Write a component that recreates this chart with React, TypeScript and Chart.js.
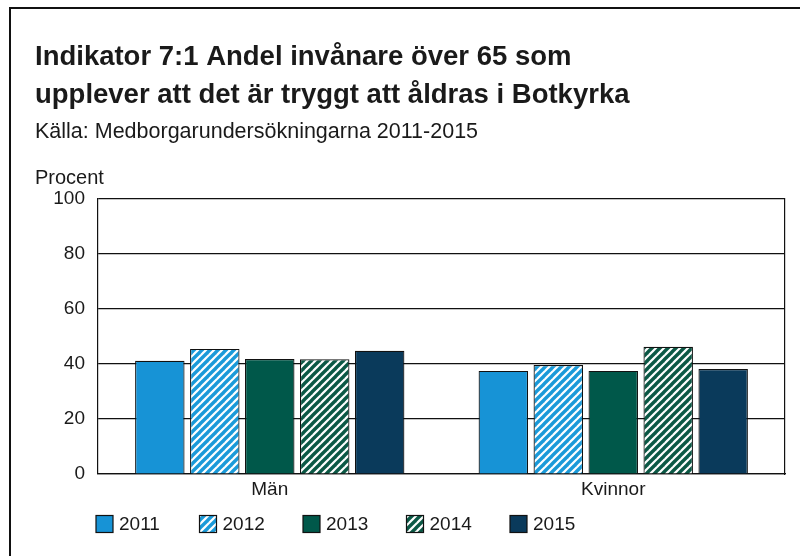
import React, { useEffect, useRef } from 'react';
import { Chart, registerables } from 'chart.js';
Chart.register(...registerables);

const categories = ['Män', 'Kvinnor'];
const years = ['2011', '2012', '2013', '2014', '2015'];
const v2011 = [41.2, 37.5];
const v2012 = [45.5, 39.6];
const v2013 = [41.8, 37.5];
const v2014 = [41.7, 46.3];
const v2015 = [44.8, 38.2];
const yMin = 0;
const yMax = 100;
const yStep = 20;
const titleLines = ['Indikator 7:1 Andel invånare över 65 som', 'upplever att det är tryggt att åldras i Botkyrka'];
const subtitleText = 'Källa: Medborgarundersökningarna 2011-2015';
const yUnit = 'Procent';

const FONT = "'Liberation Sans', Arial, Helvetica, sans-serif";

function makeHatch(color: string): CanvasPattern | string {
  const s = 8;
  const c = document.createElement('canvas');
  c.width = s;
  c.height = s;
  const g = c.getContext('2d');
  if (!g) return color;
  g.fillStyle = '#ffffff';
  g.fillRect(0, 0, s, s);
  g.strokeStyle = color;
  g.lineWidth = 3.4;
  g.lineCap = 'square';
  const segs = [
    [-s, s, s, -s],
    [0, s, s, 0],
    [0, 2 * s, 2 * s, 0],
  ];
  for (const [x1, y1, x2, y2] of segs) {
    g.beginPath();
    g.moveTo(x1, y1);
    g.lineTo(x2, y2);
    g.stroke();
  }
  const p = g.createPattern(c, 'repeat');
  return p || color;
}

const framePlugin = {
  id: 'frame',
  beforeDraw(chart: any) {
    const ctx = chart.ctx;
    ctx.save();
    ctx.fillStyle = '#ffffff';
    ctx.fillRect(0, 0, chart.width, chart.height);
    ctx.strokeStyle = '#111';
    ctx.lineWidth = 2;
    ctx.beginPath();
    ctx.moveTo(10, chart.height);
    ctx.lineTo(10, 8);
    ctx.lineTo(chart.width, 8);
    ctx.stroke();
    ctx.restore();
  },
};

const extrasPlugin = {
  id: 'extras',
  afterDraw(chart: any) {
    const ctx = chart.ctx;
    const area = chart.chartArea;
    ctx.save();
    // unit label above y axis
    ctx.fillStyle = '#1a1a1a';
    ctx.font = `20px ${FONT}`;
    ctx.textAlign = 'left';
    ctx.textBaseline = 'middle';
    ctx.fillText(yUnit, 35, area.top - 21);
    // legend
    const ds = chart.data.datasets;
    const startX = 96;
    const step = 103.5;
    const cy = 524;
    const box = 17;
    ds.forEach((d: any, i: number) => {
      const x = startX + i * step;
      ctx.fillStyle = d.backgroundColor;
      ctx.fillRect(x, cy - box / 2, box, box);
      ctx.strokeStyle = '#111';
      ctx.lineWidth = 1.2;
      ctx.strokeRect(x, cy - box / 2, box, box);
      ctx.fillStyle = '#1a1a1a';
      ctx.font = `19px ${FONT}`;
      ctx.textBaseline = 'middle';
      ctx.fillText(d.label, x + box + 6, cy + 1);
    });
    ctx.restore();
  },
};

export default function App() {
  const ref = useRef<HTMLCanvasElement | null>(null);
  useEffect(() => {
    if (!ref.current) return;
    const c2011 = '#1793d6';
    const c2012 = '#1a9ad9';
    const c2013 = '#00584a';
    const c2014 = '#0b5845';
    const c2015 = '#0a3a5b';
    const series = [
      { label: years[0], data: v2011, backgroundColor: c2011 as any },
      { label: years[1], data: v2012, backgroundColor: makeHatch(c2012) as any },
      { label: years[2], data: v2013, backgroundColor: c2013 as any },
      { label: years[3], data: v2014, backgroundColor: makeHatch(c2014) as any },
      { label: years[4], data: v2015, backgroundColor: c2015 as any },
    ];
    const chart = new Chart(ref.current, {
      type: 'bar',
      data: {
        labels: categories,
        datasets: series.map((s) => ({
          ...s,
          borderColor: '#111',
          borderWidth: 1.2,
          categoryPercentage: 0.8,
          barPercentage: 0.9,
        })),
      },
      options: {
        responsive: false,
        animation: false,
        layout: { padding: { left: 35, right: 15, top: 0, bottom: 52 } },
        plugins: {
          legend: { display: false },
          tooltip: { enabled: false },
          title: {
            display: true,
            text: titleLines,
            align: 'start',
            color: '#1a1a1a',
            font: { family: FONT, size: 27.5, weight: 'bold', lineHeight: 38 / 27.5 },
            padding: { top: 38, bottom: 0 },
          },
          subtitle: {
            display: true,
            text: subtitleText,
            align: 'start',
            color: '#1a1a1a',
            font: { family: FONT, size: 21.5, lineHeight: 24 / 21.5 },
            padding: { top: 6, bottom: 55 },
          },
        },
        scales: {
          x: {
            grid: { display: true, drawOnChartArea: false, drawTicks: false },
            border: { display: true, color: '#111', width: 1.2 },
            ticks: { color: '#1a1a1a', font: { family: FONT, size: 19 }, padding: 4 },
            afterFit: (s: any) => { s.height = 30; },
          },
          y: {
            min: yMin,
            max: yMax,
            ticks: { stepSize: yStep, color: '#1a1a1a', font: { family: FONT, size: 19 }, padding: 13 },
            grid: { color: '#111', lineWidth: 1.2, drawTicks: false },
            border: { display: true, color: '#111', width: 1.2 },
            afterFit: (s: any) => { s.width = 63; },
          },
          y2: {
            position: 'right',
            min: yMin,
            max: yMax,
            ticks: { display: false },
            grid: { drawOnChartArea: false, drawTicks: false },
            border: { display: true, color: '#111', width: 1.2 },
            afterFit: (s: any) => { s.width = 0; },
          },
        },
      },
      plugins: [framePlugin, extrasPlugin],
    } as any);
    return () => chart.destroy();
  }, []);
  return (
    <div style={{ position: 'absolute', left: 0, top: 0, width: 800, height: 556, background: '#fff' }}>
      <canvas ref={ref} width={800} height={556} style={{ display: 'block' }} />
    </div>
  );
}
